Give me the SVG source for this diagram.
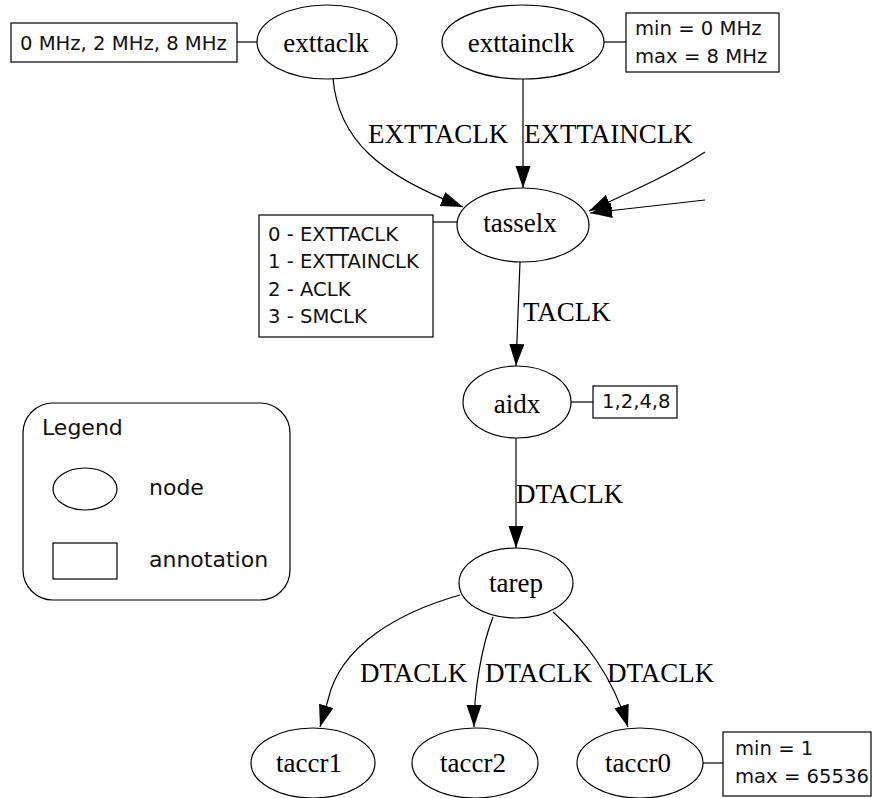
<svg xmlns="http://www.w3.org/2000/svg" width="872" height="798" viewBox="0 0 872 798">
<style>
.node ellipse{fill:#fff;stroke:#000;stroke-width:1.2}
.nl{font-family:"Liberation Serif","Times New Roman",serif;font-size:27px;fill:#000;text-anchor:middle}
.el{font-family:"Liberation Serif","Times New Roman",serif;font-size:27px;fill:#000}
.ann rect{fill:#fff;stroke:#000;stroke-width:1.2}
.at{font-family:"DejaVu Sans",sans-serif;font-size:19.6px;fill:#111}
.lt{font-family:"DejaVu Sans",sans-serif;font-size:22px;fill:#111}
.edge{fill:none;stroke:#000;stroke-width:1.2}
.arr{marker-end:url(#ah)}
</style>
<defs>
<marker id="ah" markerUnits="userSpaceOnUse" markerWidth="24" markerHeight="16" refX="22" refY="7.5" orient="auto">
<path d="M0,0 L22,7.5 L0,15 z" fill="#000"/>
</marker>
</defs>
<rect width="872" height="798" fill="#fff"/>

<g id="connectors">
<path class="edge arr" d="M333,78 C338,140 380,175 463,207"/>
<path class="edge arr" d="M523,78 L523,188"/>
<path class="edge arr" d="M705,152 C670,175 630,192 589,211"/>
<path class="edge arr" d="M705,200 L590,213"/>
<path class="edge arr" d="M520,262 L516,366"/>
<path class="edge arr" d="M516,437 L516,548"/>
<path class="edge arr" d="M460,595 C400,612 340,645 328,700 L320,727"/>
<path class="edge arr" d="M493,617 C482,645 474,690 474,727"/>
<path class="edge arr" d="M553,612 C585,640 612,675 628,727"/>
<path class="edge" d="M237,42 L257,42"/>
<path class="edge" d="M604,42 L626,42"/>
<path class="edge" d="M433,222 L457,222"/>
<path class="edge" d="M571,402 L593,402"/>
<path class="edge" d="M703,763 L723,763"/>
<text class="el" x="368" y="143">EXTTACLK</text>
<text class="el" x="524" y="143">EXTTAINCLK</text>
<text class="el" x="523" y="321">TACLK</text>
<text class="el" x="516" y="503">DTACLK</text>
<text class="el" x="360" y="682">DTACLK</text>
<text class="el" x="485" y="682">DTACLK</text>
<text class="el" x="607" y="682">DTACLK</text>
</g>

<g id="exttaclk" class="node"><ellipse cx="327" cy="42" rx="70" ry="37"/><text class="nl" x="326" y="52">exttaclk</text></g>
<g id="exttainclk" class="node"><ellipse cx="523" cy="42" rx="81" ry="37"/><text class="nl" x="521" y="52">exttainclk</text></g>
<g id="tasselx" class="node"><ellipse cx="523" cy="225" rx="66" ry="37"/><text class="nl" x="520" y="232">tasselx</text></g>
<g id="aidx" class="node"><ellipse cx="517" cy="402" rx="54" ry="36"/><text class="nl" x="517" y="413">aidx</text></g>
<g id="tarep" class="node"><ellipse cx="516" cy="583" rx="57" ry="35"/><text class="nl" x="516" y="592">tarep</text></g>
<g id="taccr1" class="node"><ellipse cx="313" cy="763" rx="62" ry="35"/><text class="nl" x="309" y="772">taccr1</text></g>
<g id="taccr2" class="node"><ellipse cx="475" cy="763" rx="63" ry="35"/><text class="nl" x="473" y="772">taccr2</text></g>
<g id="taccr0" class="node"><ellipse cx="640" cy="763" rx="63" ry="35"/><text class="nl" x="638" y="772">taccr0</text></g>

<g id="ann_exttaclk" class="ann"><rect x="11" y="23" width="226" height="39"/><text class="at" x="20" y="50">0 MHz, 2 MHz, 8 MHz</text></g>
<g id="ann_exttainclk" class="ann"><rect x="626" y="13" width="153" height="59"/><text class="at" x="635" y="35">min = 0 MHz</text><text class="at" x="635" y="63">max = 8 MHz</text></g>
<g id="ann_tasselx" class="ann"><rect x="259" y="215" width="174" height="122"/>
<text class="at" x="268" y="241">0 - EXTTACLK</text>
<text class="at" x="268" y="268">1 - EXTTAINCLK</text>
<text class="at" x="268" y="296">2 - ACLK</text>
<text class="at" x="268" y="323">3 - SMCLK</text></g>
<g id="ann_aidx" class="ann"><rect x="593" y="386" width="84" height="32"/><text class="at" x="602" y="408">1,2,4,8</text></g>
<g id="ann_taccr0" class="ann"><rect x="723" y="732" width="148" height="64"/><text class="at" x="735" y="755">min = 1</text><text class="at" x="735" y="783">max = 65536</text></g>

<g id="legend">
<rect x="23" y="403" width="267" height="197" rx="30" ry="30" fill="#fff" stroke="#000" stroke-width="1.2"/>
<text class="lt" x="42" y="435">Legend</text>
<ellipse cx="85" cy="489" rx="32" ry="21" fill="#fff" stroke="#000" stroke-width="1.2"/>
<text class="lt" x="149" y="495">node</text>
<rect x="53" y="543" width="64" height="36" fill="#fff" stroke="#000" stroke-width="1.2"/>
<text class="lt" x="149" y="567">annotation</text>
</g>
</svg>
